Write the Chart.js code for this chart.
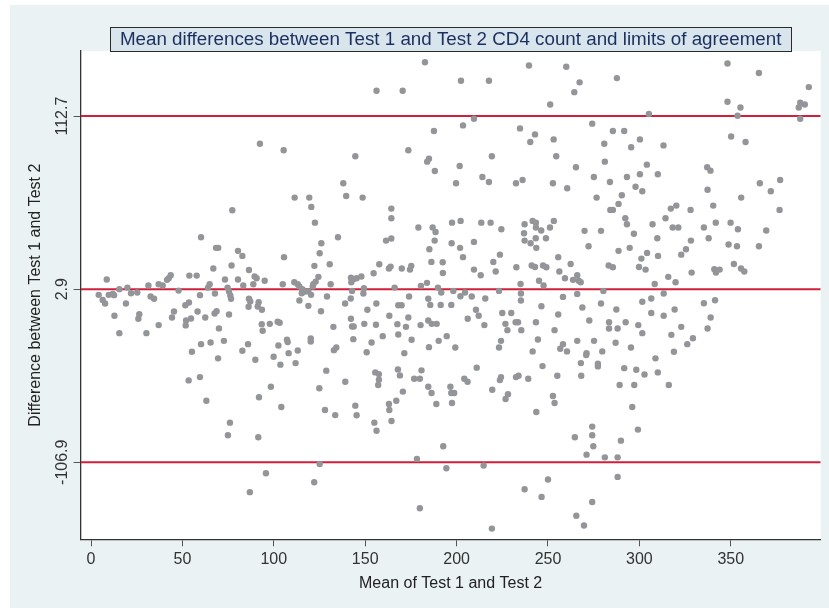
<!DOCTYPE html>
<html>
<head>
<meta charset="utf-8">
<script src="https://cdn.jsdelivr.net/npm/chart.js@4/dist/chart.umd.min.js"></script>
<style>
  html, body { margin: 0; padding: 0; background: #ffffff; }
  #wrap { width: 829px; height: 608px; position: relative; }
  canvas { display: block; }
</style>
</head>
<body>
<div id="wrap"><canvas id="c" width="829" height="608"></canvas></div>
<script>
// ---------------- text ----------------
const titleText = 'Mean differences between Test 1 and Test 2 CD4 count and limits of agreement';
const xAxisTitle = 'Mean of Test 1 and Test 2';
const yAxisTitle = 'Difference between Test 1 and Test 2';

// ---------------- axes / reference values ----------------
const xTicks = [0, 50, 100, 150, 200, 250, 300, 350];
const limitValues = [112.7, 2.9, -106.9];   // upper limit, mean difference, lower limit
const xRange = [-5.7, 399.2];
const yRange = [-155.8, 154.0];

// ---------------- data: [mean of tests, difference] ----------------
const upperPoints = [
  [182.7,146.9],[156.2,128.8],[170.5,128.8],[187.6,103.2],[92.4,95.2],[105.4,91.0],[173.6,91.0],[144.6,87.2],
  [184.9,85.7],[183.9,83.8],[188.1,77.9],[138.0,70.1],[139.6,62.0],[111.4,61.0],[119.4,61.0],[148.6,61.0],
  [120.5,55.1],[164.3,54.0],[77.3,53.0],[164.3,47.9],[122.5,45.1],
  [239.6,144.8],[260.0,144.0],[202.4,135.1],[217.7,135.1],[287.7,136.8],[267.3,134.1],[264.4,127.9],[251.2,120.1],
  [348.2,146.1],[365.4,140.0],[348.2,121.8],[355.3,118.2],[392.7,131.1],[388.0,121.2],[390.5,120.1],[387.2,118.2],
  [388.0,111.0],[353.7,112.9],[305.2,114.0],[203.5,106.8],[209.5,111.0],[274.2,107.9],[234.7,104.9],[242.9,101.1],
  [240.3,96.3],[253.1,97.9],[285.5,103.2],[291.7,103.2],[280.8,95.2],[300.3,97.9],[295.5,92.9],[313.2,94.1],
  [350.2,99.8],[358.1,96.3],[219.3,87.2],[254.5,87.2],[201.7,81.0],[281.1,83.8],[265.3,80.2],[304.1,81.9],
  [337.1,80.2],[338.9,78.1],[199.7,70.1],[214.1,74.1],[217.7,70.9],[232.5,70.1],[236.1,72.2],[252.7,70.1],
  [260.5,66.9],[275.1,74.1],[283.9,70.9],[293.2,74.1],[300.3,75.8],[310.1,75.8],[297.9,67.9],[301.6,65.0],
  [276.6,61.0],[290.4,62.5],[288.6,57.0],[284.1,53.2],[285.5,53.2],[292.3,47.9],[293.2,44.1],[340.4,55.9],
  [320.2,55.9],[317.2,54.0],[328.0,53.2],[314.3,47.9],[337.3,66.0],[355.7,61.0],[365.9,70.1],[371.9,65.0],
  [377.0,72.2],[376.7,53.2],[349.9,45.1],[341.8,45.1],[197.5,45.1],[202.2,46.2],[213.5,45.1],[218.6,45.1],
  [237.2,44.1],[241.6,46.2],[243.4,45.1],[253.2,46.2],[307.2,44.1]
];

const centralPoints = [
  [60.2,35.8],[68.4,29.1],[69.6,29.1],[80.4,27.2],[82.8,24.0],[66.9,16.0],[76.9,17.9],[86.4,15.1],[8.6,9.0],
  [53.8,11.5],[57.8,11.5],[43.6,11.7],[42.5,9.8],[41.6,8.8],[37.0,6.0],[39.2,5.2],[31.4,5.2],[19.9,3.9],
  [15.5,2.9],[47.9,2.0],[73.3,9.0],[80.4,9.0],[89.5,10.9],[90.6,9.8],[95.0,8.2],[83.3,5.2],[88.8,6.0],
  [74.7,3.9],[64.0,3.9],[64.9,6.0],[75.5,1.4],[76.2,-1.1],[76.6,-3.2],[67.8,0.1],[59.6,-0.9],[4.2,-0.7],
  [6.4,-3.9],[7.7,-6.2],[9.7,-0.7],[11.9,-0.1],[12.6,-0.9],[21.9,0.3],[25.3,0.8],[32.6,-1.8],[34.5,-3.2],
  [19.1,-6.2],[12.8,-14.0],[26.4,-13.0],[25.9,-15.9],[15.5,-25.0],[30.3,-25.0],[37.0,-19.9],[44.3,-15.1],
  [45.4,-11.3],[51.6,-7.3],[53.6,-5.6],[52.0,-17.0],[51.8,-20.1],[54.7,-15.7],[58.3,-11.3],[62.5,-15.1],
  [67.6,-12.5],[68.7,-11.1],[75.5,-13.2],[70.0,-22.0],[60.2,-32.0],[65.4,-30.9],[72.7,-29.9],[55.2,-36.8],
  [82.8,-36.2],[85.9,-32.0],[86.4,-3.2],[87.1,-4.9],[91.7,-5.4],[91.2,-8.1],[93.5,-10.2],[86.2,-8.3],
  [93.4,-19.3],[93.9,-23.5],
  [135.1,35.8],[126.0,32.0],[125.1,25.7],[105.6,23.2],[122.2,17.7],[130.6,18.7],[124.4,10.7],[122.9,7.7],
  [121.6,6.0],[121.3,4.6],[111.2,7.3],[113.1,6.0],[114.0,4.6],[104.9,6.0],[115.6,2.9],[117.1,1.4],[115.3,0.3],
  [118.9,1.4],[120.4,-0.7],[114.0,-4.3],[118.9,-7.7],[129.1,-1.8],[131.1,6.0],[125.8,-11.1],[142.2,10.2],
  [143.5,9.2],[145.3,9.8],[147.9,10.9],[142.4,7.3],[149.3,3.5],[142.8,1.8],[149.0,0.1],[142.1,-3.0],
  [139.0,-6.2],[156.1,-6.2],[154.6,13.0],[157.7,18.7],[163.0,16.0],[163.9,17.2],[170.0,16.0],[174.5,15.3],
  [175.2,17.7],[161.4,33.7],[164.3,35.0],[166.1,3.9],[180.5,5.0],[183.8,6.9],[174.0,-1.8],[184.5,-3.2],
  [168.1,-7.3],[169.9,-7.3],[185.6,-7.1],[191.3,-7.1],[189.8,3.9],[191.6,0.8],[192.4,20.0],[192.5,13.2],
  [186.2,20.2],[185.1,28.2],[188.0,33.7],[179.1,42.0],[186.9,42.0],[188.5,39.2],[151.2,-10.2],[163.2,-14.0],
  [173.6,-15.1],[142.2,-15.9],[142.8,-20.8],[143.7,-20.8],[149.5,-19.1],[155.9,-19.7],[167.6,-19.3],
  [172.3,-21.0],[180.3,-19.9],[184.5,-17.0],[186.4,-19.1],[189.1,-19.1],[132.6,-21.0],[134.2,-34.1],
  [132.9,-35.8],[143.5,-28.8],[153.5,-30.9],[159.6,-26.9],[168.1,-25.9],[175.4,-29.2],[184.9,-33.9],
  [190.2,-29.9],[194.6,-26.9],[107.2,-29.2],[107.6,-30.7],[120.2,-28.4],[120.2,-30.3],[102.1,-17.7],
  [103.2,-18.4],[97.8,-19.1],[102.5,-32.8],[113.1,-36.0],[108.1,-37.7],[150.8,-37.1],[171.4,-37.7],
  [224.5,40.9],[236.9,38.4],[243.4,42.0],[246.3,40.1],[251.1,42.0],[237.2,33.7],[240.5,32.0],[243.3,35.2],
  [248.9,35.2],[243.6,29.1],[197.3,32.0],[201.9,29.1],[209.5,32.9],[203.5,23.2],[223.7,24.8],[220.1,20.2],
  [209.5,15.3],[213.2,11.7],[221.4,14.1],[232.7,16.8],[241.1,17.9],[242.9,17.0],[247.3,17.9],[249.1,16.8],
  [255.6,23.2],[256.2,14.1],[262.4,18.9],[259.3,9.8],[263.7,8.8],[266.0,11.7],[266.8,8.2],[267.9,7.3],
  [245.1,8.2],[247.6,5.2],[235.0,6.2],[270.0,39.9],[279.0,39.9],[272.2,30.1],[288.6,27.2],[294.7,29.1],
  [283.2,17.9],[285.5,16.8],[297.0,38.1],[198.2,1.8],[202.1,-1.6],[204.6,0.8],[208.3,-1.8],[215.7,-3.0],
  [223.2,1.8],[235.2,0.1],[235.2,-4.3],[197.1,-7.1],[210.6,-10.2],[212.1,-14.0],[206.1,-15.9],[215.2,-19.9],
  [225.0,-12.2],[229.9,-12.2],[226.7,-19.1],[227.8,-23.1],[232.3,-18.1],[233.6,-18.1],[235.4,-23.1],
  [246.4,-7.9],[243.4,-18.1],[244.5,-29.0],[255.6,-13.2],[253.6,-23.1],[258.2,-2.0],[266.0,-0.1],[268.8,-8.7],
  [272.6,-17.0],[279.0,-6.2],[280.3,1.8],[287.4,-10.0],[283.4,-18.1],[283.4,-22.1],[288.1,-22.1],[292.5,-18.1],
  [287.0,-31.1],[275.2,-29.9],[266.0,-29.9],[258.2,-32.0],[256.7,-34.9],[260.4,-36.6],[224.3,-29.9],
  [223.2,-34.1],[241.6,-36.6],[199.3,-34.1],[279.7,-36.6],[271.1,-37.7],[295.4,-34.1],
  [318.2,42.0],[321.3,42.0],[335.3,42.0],[353.9,40.9],[369.4,40.1],[309.8,35.2],[328.2,33.7],[337.9,35.2],
  [348.8,31.2],[353.4,30.1],[365.4,30.1],[325.5,28.2],[322.9,24.8],[304.2,25.9],[301.1,22.3],[310.2,24.0],
  [299.8,17.0],[303.4,15.3],[315.8,10.7],[319.8,7.3],[328.6,13.4],[341.0,15.5],[343.9,15.3],[341.9,13.4],
  [351.7,18.9],[355.6,16.0],[357.4,14.1],[308.4,6.2],[313.3,0.1],[301.6,-5.1],[306.5,-3.0],[306.5,-12.2],
  [313.3,-14.0],[319.3,-10.0],[335.3,-6.0],[341.4,-4.1],[339.0,-15.1],[337.3,-22.1],[322.9,-21.0],
  [317.5,-26.1],[299.4,-19.9],[301.6,-25.0],[329.3,-28.2],[326.2,-32.0],[318.9,-36.8]
];

const lowerPoints = [
  [53.4,-55.0],[59.6,-52.9],[63.1,-67.9],[76.0,-81.8],[74.9,-89.8],[91.5,-91.1],[91.9,-65.7],[98.4,-59.0],
  [104.1,-71.9],[95.7,-113.9],[86.9,-125.9],[122.1,-119.6],[125.1,-108.0],[124.9,-60.0],[128.7,-48.8],
  [128.0,-73.8],[133.6,-77.0],[139.1,-55.8],[144.6,-71.0],[145.3,-77.1],[155.0,-81.8],[156.2,-86.9],
  [155.5,-49.9],[157.5,-51.0],[157.5,-54.5],[157.1,-57.9],[163.0,-70.0],[163.2,-73.8],[164.4,-80.7],
  [167.0,-67.9],[167.9,-48.0],[169.0,-51.8],[170.6,-62.1],[176.8,-53.9],[179.9,-53.9],[180.8,-48.6],
  [184.5,-59.0],[186.3,-63.0],[188.9,-70.0],[178.3,-104.8],[179.9,-136.1],[111.9,-44.0],[103.6,-45.0],
  [99.9,-40.0],[89.9,-41.9],[69.5,-41.0],
  [192.7,-96.8],[194.4,-110.7],[214.8,-109.0],[219.3,-149.0],[237.2,-124.0],[246.5,-128.9],[250.0,-117.9],
  [265.5,-140.9],[269.7,-147.0],[274.2,-132.1],[288.1,-116.2],[264.7,-91.1],[271.1,-102.1],[274.2,-84.3],
  [274.2,-89.8],[274.8,-96.8],[281.1,-103.8],[288.1,-103.8],[289.9,-93.2],[299.2,-86.2],[296.1,-71.9],
  [297.2,-57.9],[289.2,-57.9],[291.7,-47.2],[298.3,-48.2],[302.8,-51.2],[310.1,-49.9],[308.8,-41.0],
  [316.1,-57.9],[243.6,-75.0],[253.6,-69.3],[252.7,-64.9],[255.1,-52.0],[247.0,-45.9],[239.2,-53.9],
  [233.9,-52.0],[232.5,-52.9],[228.1,-63.8],[226.8,-66.8],[219.5,-60.9],[224.3,-52.9],[223.7,-54.8],
  [211.0,-46.9],[204.2,-53.9],[206.0,-55.8],[196.6,-59.0],[197.1,-63.0],[198.7,-63.0],[197.5,-69.3],
  [268.2,-52.0],[268.0,-44.0],[277.3,-44.4],[277.3,-46.1],[270.9,-38.9]
];

// ---------------- chart ----------------
Chart.defaults.font.family = "'Liberation Sans', Arial, Helvetica, sans-serif";

const scatterData = upperPoints.concat(centralPoints, lowerPoints).map(p => ({ x: p[0], y: p[1] }));
const limitLines = limitValues.map(v => ({
  type: 'line',
  data: [{ x: xRange[0], y: v }, { x: xRange[1], y: v }],
  borderColor: '#cf1f3b',
  borderWidth: 2,
  pointRadius: 0,
  pointHoverRadius: 0,
  fill: false,
  order: 1
}));

const backdropPlugin = {
  id: 'backdrop',
  beforeDraw(chart) {
    const { ctx, chartArea: a } = chart;
    ctx.save();
    ctx.fillStyle = '#ffffff';
    ctx.fillRect(0, 0, chart.width, chart.height);
    ctx.fillStyle = '#eaf2f3';
    ctx.fillRect(10, 5, chart.width - 10, chart.height - 5);
    ctx.fillStyle = '#ffffff';
    ctx.fillRect(a.left, a.top, a.right - a.left, a.bottom - a.top);
    // title frame
    const tOpts = chart.options.plugins.title;
    ctx.font = tOpts.font.size + 'px ' + Chart.defaults.font.family;
    const w = ctx.measureText(titleText).width;
    const cx = (a.left + a.right) / 2;
    const left = Math.round(cx - w / 2 - 10) + 0.5;
    const right = Math.round(cx + w / 2 + 10) + 0.5;
    const top = a.top - 23.5, bottom = a.top + 0.5;
    ctx.fillStyle = '#d8e5ec';
    ctx.fillRect(left, top, right - left, bottom - top);
    ctx.strokeStyle = '#2a2a2a';
    ctx.lineWidth = 1;
    ctx.strokeRect(left, top, right - left, bottom - top);
    ctx.restore();
  }
};

new Chart(document.getElementById('c'), {
  type: 'scatter',
  data: {
    datasets: [
      {
        data: scatterData,
        backgroundColor: '#939598',
        borderWidth: 0,
        pointRadius: 3.2,
        pointHoverRadius: 3.2,
        order: 0
      },
      ...limitLines
    ]
  },
  options: {
    responsive: false,
    animation: false,
    devicePixelRatio: 1,
    events: [],
    layout: { padding: { left: 0, right: 8.3, top: 0, bottom: 0 } },
    plugins: {
      legend: { display: false },
      tooltip: { enabled: false },
      title: {
        display: true,
        text: titleText,
        fullSize: false,
        color: '#1c2f5e',
        font: { size: 18.8, weight: 'normal', lineHeight: 23 / 18.8 },
        padding: { top: 28, bottom: 0 }
      }
    },
    scales: {
      x: {
        type: 'linear',
        min: xRange[0],
        max: xRange[1],
        afterBuildTicks: s => { s.ticks = xTicks.map(v => ({ value: v })); },
        afterFit: s => { s.height = 68.7; },
        grid: { display: true, drawOnChartArea: false, drawTicks: true, tickLength: 7, color: '#555555', tickWidth: 1 },
        border: { display: true, color: '#333333', width: 1.3 },
        ticks: { color: '#333333', font: { size: 16 }, padding: 4, maxRotation: 0, autoSkip: false },
        title: { display: true, text: xAxisTitle, color: '#222222', font: { size: 16 }, padding: { top: 0, bottom: 15 } }
      },
      y: {
        type: 'linear',
        min: yRange[0],
        max: yRange[1],
        afterBuildTicks: s => { s.ticks = limitValues.slice().sort((a, b) => a - b).map(v => ({ value: v })); },
        afterFit: s => { s.width = 80.6; },
        grid: { display: true, drawOnChartArea: false, drawTicks: true, tickLength: 7, color: '#555555', tickWidth: 1 },
        border: { display: true, color: '#333333', width: 1.3 },
        ticks: {
          color: '#333333', font: { size: 16 }, minRotation: 90, maxRotation: 90,
          crossAlign: 'center', padding: -12, autoSkip: false,
          callback: v => Number(v).toFixed(1)
        },
        title: { display: true, text: yAxisTitle, color: '#222222', font: { size: 16 }, padding: { top: 26.4, bottom: 0 } }
      }
    }
  },
  plugins: [backdropPlugin]
});
</script>
</body>
</html>
